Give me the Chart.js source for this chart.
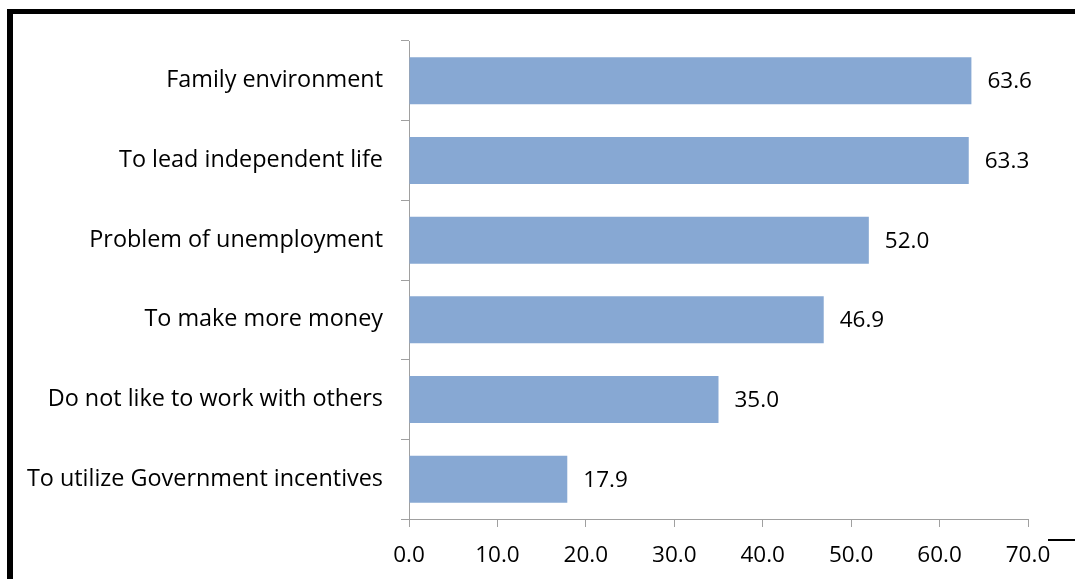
<!DOCTYPE html>
<html>
<head>
<meta charset="utf-8">
<script src="https://cdn.jsdelivr.net/npm/chart.js@4.4.0/dist/chart.umd.min.js"></script>
<style>
    body { margin: 0; background: #fff; }
    #wrap { position: relative; width: 1075px; height: 579px; overflow: hidden; }
    #reasonsChart { position: absolute; left: 0; top: 0; }
    .edge { position: absolute; background: #000; }
</style>
</head>
<body>
<div id="wrap">
    <canvas id="reasonsChart" width="1075" height="579"></canvas>
    <div class="edge" style="left:7px; top:9px; width:1068px; height:5px;"></div>
    <div class="edge" style="left:7px; top:9px; width:6px; height:570px;"></div>
    <div class="edge" style="left:1048px; top:539px; width:27px; height:2px;"></div>
</div>
<script>
const reasons = [
    'Family environment',
    'To lead independent life',
    'Problem of unemployment',
    'To make more money',
    'Do not like to work with others',
    'To utilize Government incentives'
];
const percentages = [63.6, 63.3, 52.0, 46.9, 35.0, 17.9];
const xTicks = [0, 10, 20, 30, 40, 50, 60, 70];

const FONT = "'Open Sans', sans-serif";
const axisGrey = '#a0a0a0';

// 柱子右侧的数值
const valueLabels = {
    id: 'valueLabels',
    afterDatasetsDraw(chart) {
        const ctx = chart.ctx;
        const meta = chart.getDatasetMeta(0);
        ctx.save();
        ctx.font = '22.5px ' + FONT;
        ctx.fillStyle = '#000';
        ctx.textAlign = 'left';
        ctx.textBaseline = 'middle';
        meta.data.forEach((bar, i) => {
            ctx.fillText(percentages[i].toFixed(1), bar.x + 16, bar.y + 1);
        });
        ctx.restore();
    }
};

const ctx = document.getElementById('reasonsChart').getContext('2d');
new Chart(ctx, {
    type: 'bar',
    data: {
        labels: reasons,
        datasets: [{
            data: percentages,
            backgroundColor: '#87a8d3',
            borderWidth: 0,
            barPercentage: 0.59,
            categoryPercentage: 1.0
        }]
    },
    options: {
        indexAxis: 'y',
        responsive: false,
        animation: false,
        layout: { padding: { top: 41, right: 47, bottom: 0, left: 0 } },
        plugins: {
            legend: { display: false },
            tooltip: { enabled: false }
        },
        scales: {
            x: {
                min: 0,
                max: 70,
                afterBuildTicks: scale => {
                    scale.ticks = xTicks.map(v => ({ value: v }));
                },
                afterFit: scale => { scale.height = 60; },
                grid: { drawOnChartArea: false, drawTicks: true, tickLength: 8, color: axisGrey },
                border: { display: true, color: axisGrey, width: 1 },
                ticks: {
                    padding: 15,
                    color: '#000',
                    font: { family: FONT, size: 22.5 },
                    maxRotation: 0,
                    callback: v => Number(v).toFixed(1)
                }
            },
            y: {
                afterFit: scale => { scale.width = 409; },
                grid: { drawOnChartArea: false, drawTicks: true, tickLength: 8, color: axisGrey, offset: true },
                border: { display: true, color: axisGrey, width: 1 },
                ticks: {
                    padding: 18,
                    color: '#000',
                    font: { family: FONT, size: 23.4 }
                }
            }
        }
    },
    plugins: [valueLabels]
});
</script>
</body>
</html>
